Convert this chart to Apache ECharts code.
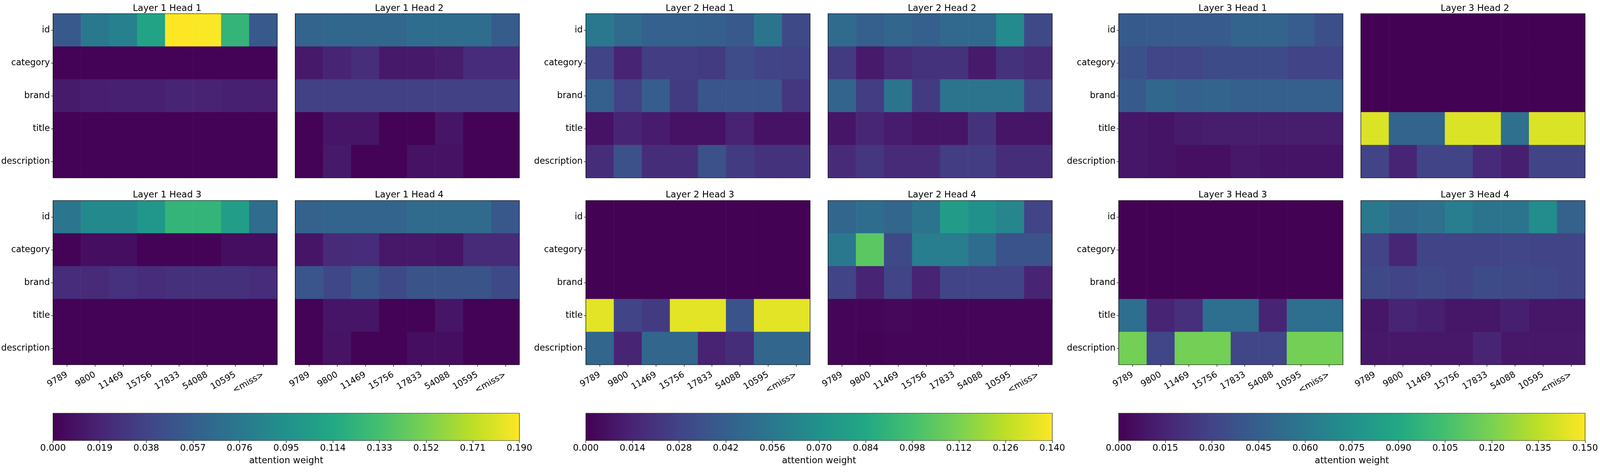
<!DOCTYPE html>
<html>
<head>
<meta charset="utf-8">
<script src="https://cdn.jsdelivr.net/npm/echarts@6/dist/echarts.min.js"></script>
<style>html,body{margin:0;padding:0;background:#fff;overflow:hidden}#c{width:100vw;height:100vh}</style>
</head>
<body>
<div id="c"></div>
<script>
const X_CATS = ['9789','9800','11469','15756','17833','54088','10595','<miss>'];
const Y_CATS = ['id','category','brand','title','description'];
const LAYER_MAX = [0.19, 0.14, 0.15];
const CB_INTERVAL = [0.019, 0.014, 0.015];
const CB_LABEL = 'attention weight';
const VIRIDIS = ['#440154','#482475','#414487','#355f8d','#2a788e','#21918c','#22a884','#44bf70','#7ad151','#bddf26','#fde725'];

const L1H1 = [
  [0.053,0.076,0.082,0.110,0.190,0.189,0.124,0.053],
  [0.001,0.001,0.001,0.001,0.001,0.001,0.001,0.001],
  [0.014,0.016,0.017,0.017,0.019,0.018,0.017,0.017],
  [0.001,0.001,0.001,0.001,0.001,0.001,0.001,0.001],
  [0.001,0.001,0.001,0.001,0.001,0.001,0.001,0.001]
];
const L1H2 = [
  [0.061,0.063,0.063,0.063,0.068,0.068,0.068,0.055],
  [0.013,0.019,0.025,0.013,0.013,0.015,0.024,0.024],
  [0.036,0.036,0.036,0.036,0.036,0.036,0.036,0.036],
  [0.001,0.011,0.011,0.001,0.001,0.011,0.001,0.001],
  [0.001,0.013,0.001,0.001,0.009,0.009,0.001,0.001]
];
const L1H3 = [
  [0.074,0.089,0.089,0.099,0.124,0.124,0.105,0.067],
  [0.001,0.007,0.007,0.001,0.001,0.001,0.007,0.007],
  [0.024,0.023,0.027,0.024,0.026,0.026,0.026,0.024],
  [0.001,0.001,0.001,0.001,0.001,0.001,0.001,0.001],
  [0.001,0.001,0.001,0.001,0.001,0.001,0.001,0.001]
];
const L1H4 = [
  [0.059,0.061,0.061,0.061,0.066,0.066,0.066,0.052],
  [0.011,0.023,0.024,0.012,0.012,0.011,0.023,0.023],
  [0.050,0.040,0.051,0.042,0.049,0.049,0.049,0.042],
  [0.001,0.011,0.011,0.001,0.001,0.011,0.001,0.001],
  [0.001,0.010,0.001,0.001,0.007,0.007,0.001,0.001]
];
const L2H1 = [
  [0.056,0.048,0.043,0.043,0.042,0.039,0.053,0.031],
  [0.028,0.014,0.025,0.025,0.024,0.032,0.028,0.027],
  [0.042,0.027,0.041,0.024,0.037,0.037,0.037,0.022],
  [0.007,0.014,0.011,0.007,0.007,0.013,0.007,0.007],
  [0.018,0.034,0.018,0.018,0.034,0.024,0.020,0.020]
];
const L2H2 = [
  [0.048,0.042,0.046,0.042,0.047,0.047,0.066,0.031],
  [0.024,0.010,0.017,0.020,0.020,0.010,0.020,0.017],
  [0.045,0.025,0.053,0.024,0.053,0.053,0.053,0.028],
  [0.008,0.015,0.011,0.008,0.008,0.020,0.008,0.008],
  [0.017,0.022,0.017,0.017,0.025,0.025,0.018,0.018]
];
const L2H3 = [
  [0.0005,0.0005,0.0005,0.0005,0.0005,0.0005,0.0005,0.0005],
  [0.0005,0.0005,0.0005,0.0005,0.0005,0.0005,0.0005,0.0005],
  [0.0005,0.0005,0.0005,0.0005,0.0005,0.0005,0.0005,0.0005],
  [0.134,0.028,0.024,0.134,0.134,0.036,0.134,0.134],
  [0.046,0.014,0.046,0.046,0.013,0.018,0.046,0.046]
];
const L2H4 = [
  [0.046,0.050,0.046,0.053,0.077,0.070,0.063,0.028],
  [0.056,0.104,0.031,0.059,0.059,0.050,0.036,0.036],
  [0.028,0.014,0.028,0.014,0.028,0.028,0.028,0.014],
  [0.002,0.002,0.003,0.002,0.002,0.002,0.002,0.002],
  [0.002,0.001,0.002,0.002,0.002,0.002,0.002,0.002]
];
const L3H1 = [
  [0.042,0.043,0.043,0.043,0.048,0.048,0.044,0.036],
  [0.037,0.031,0.031,0.034,0.034,0.034,0.030,0.030],
  [0.042,0.050,0.046,0.048,0.045,0.045,0.045,0.045],
  [0.009,0.008,0.011,0.012,0.012,0.012,0.012,0.012],
  [0.009,0.008,0.006,0.006,0.010,0.008,0.008,0.008]
];
const L3H2 = [
  [0.0005,0.0005,0.0005,0.0005,0.0005,0.0005,0.0005,0.0005],
  [0.0005,0.0005,0.0005,0.0005,0.0005,0.0005,0.0005,0.0005],
  [0.0005,0.0005,0.0005,0.0005,0.0005,0.0005,0.0005,0.0005],
  [0.142,0.048,0.048,0.142,0.142,0.055,0.142,0.142],
  [0.030,0.015,0.030,0.030,0.018,0.013,0.030,0.030]
];
const L3H3 = [
  [0.0005,0.0005,0.0005,0.0005,0.0005,0.0005,0.0005,0.0005],
  [0.0005,0.0005,0.0005,0.0005,0.0005,0.0005,0.0005,0.0005],
  [0.0005,0.0005,0.0005,0.0005,0.0005,0.0005,0.0005,0.0005],
  [0.054,0.015,0.020,0.054,0.054,0.015,0.054,0.054],
  [0.118,0.031,0.118,0.118,0.031,0.031,0.118,0.118]
];
const L3H4 = [
  [0.060,0.053,0.055,0.063,0.057,0.057,0.072,0.047],
  [0.030,0.016,0.030,0.030,0.030,0.031,0.030,0.030],
  [0.033,0.030,0.033,0.030,0.034,0.033,0.032,0.030],
  [0.009,0.015,0.013,0.009,0.009,0.013,0.009,0.009],
  [0.010,0.010,0.010,0.010,0.015,0.010,0.010,0.010]
];
const HEADS = [[L1H1,L1H2,L1H3,L1H4],[L2H1,L2H2,L2H3,L2H4],[L3H1,L3H2,L3H3,L3H4]];

const FF = 'DejaVu Sans';
const el = document.getElementById('c');
const chart = echarts.init(el, null, {renderer:'canvas'});
const W = chart.getWidth(), H = chart.getHeight();
const sx = W / 4830, sy = H / 1210;
const f = Math.min(1, Math.sqrt(sx));
const FS = 25 * f;
const YFS = Math.min(FS, (160 * sx - 11) / 5.56);
const XFS = 24 * f;
const grids = [], xAxes = [], yAxes = [], series = [], titles = [], visualMaps = [];
const PW = 677, PH = 420, GAP = 54, LAYER_STEP = 1608.5;

for (let L = 0; L < 3; L++) {
  const base = 160 + L * LAYER_STEP;
  const sIdx = [];
  for (let h = 0; h < 4; h++) {
    const col = h % 2, row = Math.floor(h / 2);
    const left = base + col * (PW + GAP);
    const top = row ? 513 : 35;
    const gi = grids.length;
    grids.push({left: left*sx, top: top*sy, width: PW*sx, height: PH*sy, show: true, borderColor: '#000', borderWidth: 1.2, backgroundColor: 'transparent', z: 10});
    xAxes.push({type:'category', gridIndex: gi, data: X_CATS,
      axisLine:{show:false}, splitLine:{show:false},
      axisTick:{show: row === 1, alignWithLabel: true, length: 5, lineStyle:{color:'#000', width:1.2}},
      axisLabel:{show: row === 1, rotate: 30, fontSize: XFS, color:'#000', margin: 24, fontFamily: FF, interval: 0}});
    yAxes.push({type:'category', gridIndex: gi, data: Y_CATS, inverse: true,
      axisLine:{show:false}, splitLine:{show:false},
      axisTick:{show: col === 0, alignWithLabel: true, length: 5, lineStyle:{color:'#000', width:1.2}},
      axisLabel:{show: col === 0, fontSize: YFS, color:'#000', margin: 8, fontFamily: FF, interval: 0}});
    const M = HEADS[L][h];
    const data = [];
    for (let r = 0; r < Y_CATS.length; r++) for (let c = 0; c < X_CATS.length; c++) data.push([c, r, M[r][c]]);
    sIdx.push(series.length);
    series.push({type:'heatmap', xAxisIndex: gi, yAxisIndex: gi, data, emphasis:{disabled:true}, progressive: 0});
    titles.push({text: 'Layer ' + (L+1) + ' Head ' + (h+1), left: (left + PW/2)*sx, top: (row ? 483 : 6)*sy, textAlign: 'center',
      textStyle:{fontSize: FS, fontWeight:'normal', color:'#000', fontFamily: FF}});
  }
  visualMaps.push({type:'continuous', min: 0, max: LAYER_MAX[L], seriesIndex: sIdx, show: false, inRange:{color: VIRIDIS}});
}

for (let L = 0; L < 3; L++) {
  const base = 160 + L * LAYER_STEP;
  const gi = grids.length;
  const mx = LAYER_MAX[L];
  grids.push({left: base*sx, top: 1057*sy, width: (2*PW + GAP)*sx, height: 70*sy, show: true, borderColor:'#222', borderWidth: 1.2, backgroundColor:'transparent', z: 10});
  xAxes.push({type:'value', gridIndex: gi, min: 0, max: mx, interval: CB_INTERVAL[L],
    axisLine:{show:false}, splitLine:{show:false},
    axisTick:{show:true, length: 6, lineStyle:{color:'#000', width:1.2}},
    axisLabel:{fontSize: FS, color:'#000', margin: 9, fontFamily: FF, formatter: v => v.toFixed(3), showMaxLabel: true, showMinLabel: true},
    name: CB_LABEL, nameLocation:'middle', nameGap: 41, nameTextStyle:{fontSize: FS, color:'#000', fontFamily: FF}});
  yAxes.push({type:'value', gridIndex: gi, min: 0, max: 1, show: false});
  series.push({type:'custom', xAxisIndex: gi, yAxisIndex: gi, data: [[0, 0]], silent: true,
    renderItem: (params, api) => {
      const p0 = api.coord([0, 0]);
      const p1 = api.coord([mx, 1]);
      return {type:'rect', shape:{x: p0[0], y: p1[1], width: p1[0]-p0[0], height: p0[1]-p1[1]},
        style:{fill: new echarts.graphic.LinearGradient(0, 0, 1, 0, VIRIDIS.map((c, i) => ({offset: i/10, color: c})))}};
    }});
}

chart.setOption({
  animation: false,
  backgroundColor: '#fff',
  textStyle: {fontFamily: FF},
  title: titles,
  grid: grids,
  xAxis: xAxes,
  yAxis: yAxes,
  visualMap: visualMaps,
  series: series
});
</script>
</body>
</html>
